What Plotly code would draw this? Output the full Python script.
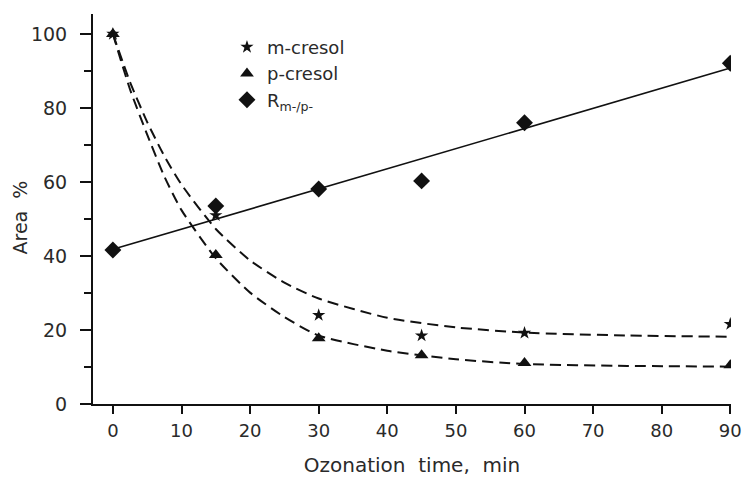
import plotly.graph_objects as go

# measured points
time_min = [0, 15, 30, 45, 60, 90]
m_cresol = [100, 51.0, 24.0, 18.5, 19.2, 21.6]
p_cresol = [100, 40.3, 17.8, 13.2, 11.1, 10.5]
r_ratio = [41.6, 53.5, 58.1, 60.3, 76.0, 92.1]

# fitted curves
m_fit_x = [0, 2.5, 5, 7.5, 10, 15, 20, 25, 30, 40, 50, 60, 75, 90]
m_fit_y = [100, 87.0, 76.2, 67.0, 59.3, 47.3, 38.8, 32.8, 28.5, 23.3, 20.7, 19.3, 18.5, 18.2]
p_fit_x = [0, 2.5, 5, 7.5, 10, 15, 20, 25, 30, 40, 50, 60, 75, 90]
p_fit_y = [100, 85.0, 72.8, 61.5, 52.4, 39.4, 30.1, 23.5, 18.5, 14.4, 12.1, 10.8, 10.3, 10.1]
r_fit_x = [0, 90]
r_fit_y = [41.8, 90.8]

x_ticks = [0, 10, 20, 30, 40, 50, 60, 70, 80, 90]
y_ticks = [0, 20, 40, 60, 80, 100]
y_minor = [10, 30, 50, 70, 90]

FONT = "DejaVu Sans"
TXT = "#2a2a2a"

fig = go.Figure()
dash = "11px,6px"
for fx, fy in ((m_fit_x, m_fit_y), (p_fit_x, p_fit_y)):
    fig.add_trace(go.Scatter(x=fx, y=fy, mode="lines",
                             line=dict(color="#111", width=2, dash=dash, shape="spline", smoothing=0.6),
                             showlegend=False, hoverinfo="skip"))
fig.add_trace(go.Scatter(x=r_fit_x, y=r_fit_y, mode="lines", line=dict(color="#111", width=1.6),
                         showlegend=False, hoverinfo="skip"))

fig.add_trace(go.Scatter(x=time_min, y=m_cresol, mode="markers", name="m-cresol",
                         marker=dict(symbol="star", size=10, color="#111")))
fig.add_trace(go.Scatter(x=time_min, y=p_cresol, mode="markers", name="p-cresol",
                         marker=dict(symbol="triangle-up", size=12, color="#111")))
fig.add_trace(go.Scatter(x=time_min, y=r_ratio, mode="markers", name="R<sub>m-/p-</sub>",
                         marker=dict(symbol="diamond", size=13, color="#111")))

fig.add_annotation(text="Area&nbsp;&nbsp;%", textangle=-90, xref="paper", yref="paper",
                   x=-0.114, y=0.479, xanchor="center", yanchor="middle", showarrow=False,
                   font=dict(family=FONT, size=19, color=TXT))

fig.update_layout(
    width=744, height=477,
    margin=dict(l=93, r=13, t=14, b=73),
    paper_bgcolor="white", plot_bgcolor="white",
    font=dict(family=FONT, size=19, color=TXT),
    legend=dict(x=0.21, y=0.962, xanchor="left", yanchor="top", bgcolor="rgba(0,0,0,0)",
                font=dict(family=FONT, size=18, color=TXT), itemwidth=30, tracegroupgap=0),
    xaxis=dict(range=[-2.9, 90.1], tickvals=x_ticks, ticks="outside", ticklen=8, tickwidth=1.5,
               tickcolor="#111", showline=True, linecolor="#111", linewidth=2, showgrid=False,
               zeroline=False, tickfont=dict(size=18), automargin=False, ticklabelstandoff=1,
               title=dict(text="Ozonation&nbsp;&nbsp;time,&nbsp;&nbsp;min", font=dict(size=20), standoff=21)),
    yaxis=dict(range=[0, 105.4], tickvals=y_ticks, ticks="outside", ticklen=11, tickwidth=1.5,
               tickcolor="#111", showline=True, linecolor="#111", linewidth=2, showgrid=False,
               zeroline=False, tickfont=dict(size=19), automargin=False, ticklabelstandoff=9,
               minor=dict(tickvals=y_minor, ticks="outside", ticklen=7, tickcolor="#111", showgrid=False)),
)

fig.write_html("out.html", config={"displayModeBar": False},
               post_script="document.body.style.margin='0';")
